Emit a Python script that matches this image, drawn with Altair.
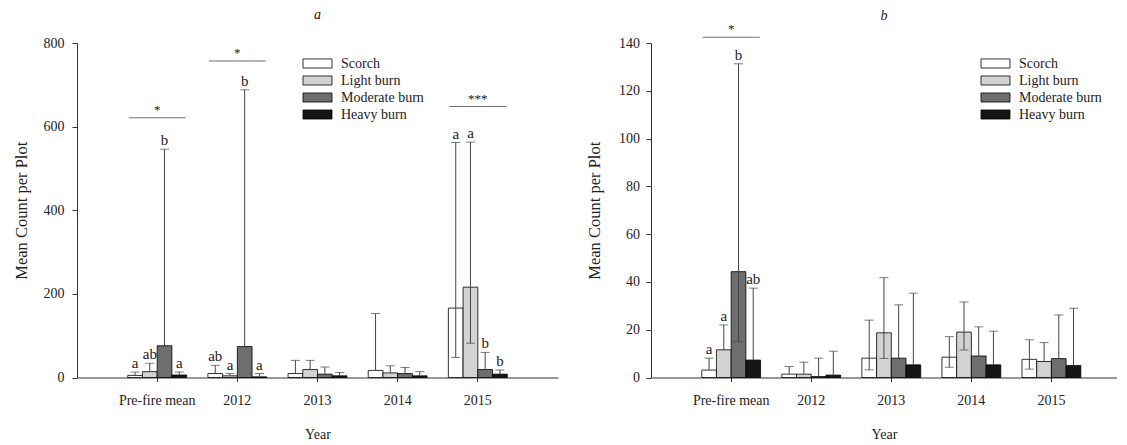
import altair as alt
import pandas as pd

years = ["Pre-fire mean", "2012", "2013", "2014", "2015"]
severities = ["Scorch", "Light burn", "Moderate burn", "Heavy burn"]
fills = ["#ffffff", "#d2d2d2", "#6e6e6e", "#151515"]

# Panel a (rows = years, columns = severities)
a_mean = [[5, 14, 76, 6], [9.5, 4, 74, 1.5], [9.5, 19, 8, 4], [17, 11, 9.5, 4], [166, 216, 19, 8]]
a_high = [[13, 34, 546, 13], [29, 9.5, 688, 9.5], [41, 41, 25, 12], [153, 28, 24, 14], [562, 563, 60, 18]]
a_low = [[None, None, None, None], [None, None, None, None], [None, None, None, None],
         [None, None, None, None], [48, 82, None, None]]
a_letters = [["a", "ab", "b", "a"], ["ab", "a", "b", "a"], ["", "", "", ""], ["", "", "", ""], ["a", "a", "b", "b"]]
a_sig_years = ["Pre-fire mean", "2012", "2015"]
a_sig_y = [621, 757, 648]
a_sig_text = ["*", "*", "***"]

# Panel b
b_mean = [[3.1, 11.6, 44.3, 7.3], [1.4, 1.4, 0.4, 1.0], [8.1, 18.7, 8.1, 5.3], [8.5, 19, 9, 5.3], [7.6, 6.7, 7.9, 5]]
b_high = [[8.1, 22, 131.3, 37.4], [4.6, 6.4, 8.1, 11], [24, 41.8, 30.4, 35.3], [17.1, 31.6, 21.2, 19.4], [15.8, 14.6, 26.2, 29]]
b_low = [[None, None, 15, None], [None, None, None, None], [3.2, 8, None, None],
         [4.3, 11.5, None, None], [3.5, None, None, None]]
b_letters = [["a", "a", "b", "ab"], ["", "", "", ""], ["", "", "", ""], ["", "", "", ""], ["", "", "", ""]]
b_sig_years = ["Pre-fire mean"]
b_sig_y = [142.4]
b_sig_text = ["*"]

SERIF = "Liberation Serif"


def frame(mean, high, low, letters):
    rows = []
    for i, yr in enumerate(years):
        for j, s in enumerate(severities):
            lo = low[i][j]
            rows.append({
                "year": yr, "sev": s, "mean": mean[i][j], "high": high[i][j],
                "lo": lo if lo is not None else mean[i][j],
                "low": lo, "label": letters[i][j],
            })
    return pd.DataFrame(rows)


def panel(df, sig, title, ymax, ystep, width, po, align, legx, title_offset, ylp, ytp):
    xscale = alt.Scale(domain=years, paddingInner=0.265, paddingOuter=po, align=align)
    xaxis = alt.Axis(title="Year", labelAngle=0, tickSize=4, labelPadding=12, titlePadding=20,
                     domainColor="#333", tickColor="#333")
    yscale = alt.Scale(domain=[0, ymax], nice=False)
    yaxis = alt.Axis(title="Mean Count per Plot", values=list(range(0, ymax + 1, ystep)), grid=False,
                     tickSize=5, labelPadding=ylp, titlePadding=ytp, titleFontSize=16.5,
                     domainColor="#333", tickColor="#333")
    X = alt.X("year:N", sort=years, scale=xscale, axis=xaxis)
    XO = alt.XOffset("sev:N", sort=severities, scale=alt.Scale(domain=severities, paddingInner=0, paddingOuter=0))

    base = alt.Chart(df)
    bars = base.mark_bar(stroke="black", strokeWidth=0.8).encode(
        x=X, xOffset=XO,
        y=alt.Y("mean:Q", scale=yscale, axis=yaxis),
        fill=alt.Fill("sev:N", sort=severities, scale=alt.Scale(domain=severities, range=fills),
                      legend=alt.Legend(title=None, orient="none", legendX=legx, legendY=11,
                                        symbolType="M-1.6,-0.5H1.6V0.5H-1.6Z", symbolSize=328,
                                        symbolStrokeColor="black", symbolStrokeWidth=0.8,
                                        symbolOpacity=1, labelFont=SERIF, labelFontSize=14,
                                        labelColor="#222", labelOffset=14, rowPadding=-1)),
    )
    rules = base.mark_rule(color="#444", strokeWidth=1).encode(
        x=X, xOffset=XO, y=alt.Y("lo:Q", scale=yscale, axis=yaxis), y2="high:Q")
    caps = base.mark_tick(color="#444", thickness=1, size=9).encode(
        x=X, xOffset=XO, y=alt.Y("high:Q", scale=yscale, axis=yaxis))
    lowcaps = base.transform_filter("isValid(datum.low)").mark_tick(color="#444", thickness=1, size=9).encode(
        x=X, xOffset=XO, y=alt.Y("low:Q", scale=yscale, axis=yaxis))
    letters = base.transform_filter("datum.label != ''").mark_text(
        baseline="bottom", dy=-1, font=SERIF, fontSize=15, color="#222").encode(
        x=X, xOffset=XO, y=alt.Y("high:Q", scale=yscale, axis=yaxis), text="label:N")

    sbase = alt.Chart(sig)
    sig_lines = sbase.mark_tick(color="#333", thickness=1, size=57).encode(
        x=X, y=alt.Y("sig:Q", scale=yscale, axis=yaxis))
    sig_text = sbase.mark_text(baseline="bottom", dy=-1, font=SERIF, fontSize=13, color="#222").encode(
        x=X, y=alt.Y("sig:Q", scale=yscale, axis=yaxis), text="star:N")

    return alt.layer(bars, rules, caps, lowcaps, letters, sig_lines, sig_text).properties(
        width=width, height=334.5,
        title=alt.TitleParams(title, font=SERIF, fontStyle="italic", fontWeight="normal",
                              fontSize=14, anchor="middle", offset=title_offset, color="#222"),
    )


df_a = frame(a_mean, a_high, a_low, a_letters)
df_b = frame(b_mean, b_high, b_low, b_letters)
sig_a = pd.DataFrame({"year": a_sig_years, "sig": a_sig_y, "star": a_sig_text})
sig_b = pd.DataFrame({"year": b_sig_years, "sig": b_sig_y, "star": b_sig_text})

pa = panel(df_a, sig_a, "a", 800, 200, 481, 0.6325, 0.5, 231, 14, 8, 13.5)
pb = panel(df_b, sig_b, "b", 140, 20, 466, 0.5425, 0.584, 335, 0, 6.5, 16)

chart = alt.hconcat(pa, pb, spacing=28).resolve_scale(
    x="independent", y="independent", fill="independent", xOffset="independent"
).resolve_legend(fill="independent").configure(
    padding={"left": 5, "top": 0, "right": 0, "bottom": 0},
    background="white",
).configure_view(stroke=None).configure_axis(
    labelFont=SERIF, labelFontSize=14, labelColor="#222",
    titleFont=SERIF, titleFontSize=14, titleFontWeight="normal", titleColor="#222",
)

chart.save("out.html", embed_options={"renderer": "svg", "actions": False})
